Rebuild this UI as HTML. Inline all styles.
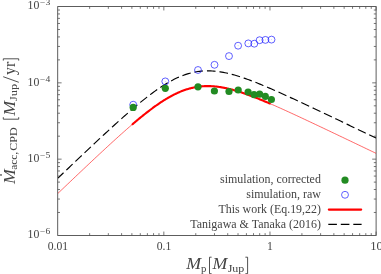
<!DOCTYPE html><html><head><meta charset="utf-8"><style>html,body{margin:0;padding:0;background:#fff;}body{width:381px;height:274px;overflow:hidden;position:relative;font-family:"Liberation Serif",serif;}</style></head><body><svg width="381" height="274" viewBox="0 0 381 274" style="position:absolute;left:0;top:0">
<rect width="381" height="274" fill="#fff"/>
<path d="M89.65 235.45v-2.30 M89.65 6.55v2.30 M108.34 235.45v-2.30 M108.34 6.55v2.30 M121.60 235.45v-2.30 M121.60 6.55v2.30 M131.88 235.45v-2.30 M131.88 6.55v2.30 M140.29 235.45v-2.30 M140.29 6.55v2.30 M147.39 235.45v-2.30 M147.39 6.55v2.30 M153.55 235.45v-2.30 M153.55 6.55v2.30 M158.98 235.45v-2.30 M158.98 6.55v2.30 M163.83 235.45v-3.90 M163.83 6.55v3.90 M195.78 235.45v-2.30 M195.78 6.55v2.30 M214.47 235.45v-2.30 M214.47 6.55v2.30 M227.73 235.45v-2.30 M227.73 6.55v2.30 M238.02 235.45v-2.30 M238.02 6.55v2.30 M246.42 235.45v-2.30 M246.42 6.55v2.30 M253.53 235.45v-2.30 M253.53 6.55v2.30 M259.68 235.45v-2.30 M259.68 6.55v2.30 M265.11 235.45v-2.30 M265.11 6.55v2.30 M269.97 235.45v-3.90 M269.97 6.55v3.90 M301.92 235.45v-2.30 M301.92 6.55v2.30 M320.61 235.45v-2.30 M320.61 6.55v2.30 M333.87 235.45v-2.30 M333.87 6.55v2.30 M344.15 235.45v-2.30 M344.15 6.55v2.30 M352.55 235.45v-2.30 M352.55 6.55v2.30 M359.66 235.45v-2.30 M359.66 6.55v2.30 M365.81 235.45v-2.30 M365.81 6.55v2.30 M371.24 235.45v-2.30 M371.24 6.55v2.30 M376.10 235.45v-3.90 M376.10 6.55v3.90 M57.70 212.48h2.30 M376.10 212.48h-2.30 M57.70 199.05h2.30 M376.10 199.05h-2.30 M57.70 189.51h2.30 M376.10 189.51h-2.30 M57.70 182.12h2.30 M376.10 182.12h-2.30 M57.70 176.08h2.30 M376.10 176.08h-2.30 M57.70 170.97h2.30 M376.10 170.97h-2.30 M57.70 166.54h2.30 M376.10 166.54h-2.30 M57.70 162.64h2.30 M376.10 162.64h-2.30 M57.70 159.15h3.90 M376.10 159.15h-3.90 M57.70 136.18h2.30 M376.10 136.18h-2.30 M57.70 122.75h2.30 M376.10 122.75h-2.30 M57.70 113.21h2.30 M376.10 113.21h-2.30 M57.70 105.82h2.30 M376.10 105.82h-2.30 M57.70 99.78h2.30 M376.10 99.78h-2.30 M57.70 94.67h2.30 M376.10 94.67h-2.30 M57.70 90.24h2.30 M376.10 90.24h-2.30 M57.70 86.34h2.30 M376.10 86.34h-2.30 M57.70 82.85h3.90 M376.10 82.85h-3.90 M57.70 59.88h2.30 M376.10 59.88h-2.30 M57.70 46.45h2.30 M376.10 46.45h-2.30 M57.70 36.91h2.30 M376.10 36.91h-2.30 M57.70 29.52h2.30 M376.10 29.52h-2.30 M57.70 23.48h2.30 M376.10 23.48h-2.30 M57.70 18.37h2.30 M376.10 18.37h-2.30 M57.70 13.94h2.30 M376.10 13.94h-2.30 M57.70 10.04h2.30 M376.10 10.04h-2.30" stroke="#555" stroke-width="0.8" fill="none"/>
<rect x="57.70" y="6.55" width="318.40" height="228.90" fill="none" stroke="#4c4c4c" stroke-width="0.9"/>
<clipPath id="c"><rect x="57.70" y="6.55" width="318.40" height="228.90"/></clipPath>
<g clip-path="url(#c)" fill="none">
<path d="M58.00 193.30 L59.59 191.78 L61.18 190.26 L62.77 188.75 L64.36 187.23 L65.95 185.72 L67.54 184.21 L69.13 182.69 L70.72 181.18 L72.31 179.67 L73.90 178.16 L75.49 176.65 L77.08 175.14 L78.67 173.64 L80.26 172.13 L81.85 170.63 L83.44 169.12 L85.03 167.62 L86.62 166.12 L88.21 164.62 L89.80 163.12 L91.39 161.63 L92.98 160.13 L94.57 158.64 L96.16 157.15 L97.75 155.67 L99.34 154.18 L100.93 152.70 L102.52 151.22 L104.11 149.75 L105.70 148.27 L107.29 146.81 L108.88 145.34 L110.47 143.88 L112.06 142.42 L113.65 140.97 L115.24 139.53 L116.83 138.09 L118.42 136.65 L120.01 135.22 L121.60 133.80 L123.19 132.38 L124.78 130.97 L126.37 129.57 L127.96 128.18 L129.55 126.79 L131.14 125.42 L132.73 124.05 L134.32 122.70 L135.91 121.35 L137.50 120.02 L139.09 118.70 L140.68 117.40 L142.27 116.10 L143.86 114.83 L145.45 113.56 L147.04 112.32 L148.63 111.09 L150.22 109.88 L151.81 108.69 L153.40 107.52 L154.99 106.37 L156.58 105.24 L158.17 104.14 L159.76 103.06 L161.35 102.00 L162.94 100.97 L164.53 99.97 L166.12 99.00 L167.71 98.05 L169.30 97.14 L170.89 96.26 L172.48 95.41 L174.07 94.59 L175.66 93.81 L177.25 93.06 L178.84 92.35 L180.43 91.67 L182.02 91.04 L183.61 90.44 L185.20 89.87 L186.79 89.35 L188.38 88.87 L189.97 88.42 L191.56 88.02 L193.15 87.65 L194.74 87.32 L196.33 87.03 L197.92 86.79 L199.51 86.58 L201.10 86.40 L202.69 86.27 L204.28 86.18 L205.87 86.12 L207.46 86.09 L209.05 86.10 L210.64 86.15 L212.23 86.23 L213.82 86.34 L215.41 86.49 L217.00 86.66 L218.59 86.86 L220.18 87.10 L221.77 87.36 L223.36 87.64 L224.95 87.96 L226.54 88.29 L228.13 88.65 L229.72 89.03 L231.31 89.44 L232.90 89.86 L234.49 90.30 L236.08 90.77 L237.67 91.25 L239.26 91.74 L240.85 92.25 L242.44 92.78 L244.03 93.32 L245.62 93.88 L247.21 94.44 L248.80 95.02 L250.39 95.61 L251.98 96.21 L253.57 96.82 L255.16 97.44 L256.75 98.07 L258.34 98.71 L259.93 99.36 L261.52 100.01 L263.11 100.67 L264.70 101.34 L266.29 102.01 L267.88 102.69 L269.47 103.37 L271.06 104.06 L272.65 104.75 L274.24 105.45 L275.83 106.15 L277.42 106.86 L279.01 107.57 L280.60 108.28 L282.19 109.00 L283.78 109.71 L285.37 110.44 L286.96 111.16 L288.55 111.89 L290.14 112.62 L291.73 113.35 L293.32 114.08 L294.91 114.82 L296.50 115.55 L298.09 116.29 L299.68 117.03 L301.27 117.77 L302.86 118.52 L304.45 119.26 L306.04 120.01 L307.63 120.75 L309.22 121.50 L310.81 122.25 L312.40 123.00 L313.99 123.75 L315.58 124.50 L317.17 125.25 L318.76 126.00 L320.35 126.75 L321.94 127.51 L323.53 128.26 L325.12 129.02 L326.71 129.77 L328.30 130.53 L329.89 131.28 L331.48 132.04 L333.07 132.80 L334.66 133.55 L336.25 134.31 L337.84 135.07 L339.43 135.83 L341.02 136.58 L342.61 137.34 L344.20 138.10 L345.79 138.86 L347.38 139.62 L348.97 140.38 L350.56 141.14 L352.15 141.90 L353.74 142.66 L355.33 143.41 L356.92 144.17 L358.51 144.93 L360.10 145.69 L361.69 146.46 L363.28 147.22 L364.87 147.98 L366.46 148.74 L368.05 149.50 L369.64 150.26 L371.23 151.02 L372.82 151.78 L374.41 152.54 L376.00 153.30" stroke="#ff0000" stroke-width="0.6"/>
<path d="M58.00 178.06 L59.59 176.55 L61.18 175.03 L62.77 173.52 L64.36 172.00 L65.95 170.49 L67.54 168.97 L69.13 167.46 L70.72 165.95 L72.31 164.44 L73.90 162.93 L75.49 161.42 L77.08 159.91 L78.67 158.40 L80.26 156.90 L81.85 155.39 L83.44 153.89 L85.03 152.39 L86.62 150.89 L88.21 149.39 L89.80 147.89 L91.39 146.39 L92.98 144.90 L94.57 143.41 L96.16 141.92 L97.75 140.43 L99.34 138.95 L100.93 137.47 L102.52 135.99 L104.11 134.51 L105.70 133.04 L107.29 131.57 L108.88 130.11 L110.47 128.65 L112.06 127.19 L113.65 125.74 L115.24 124.29 L116.83 122.85 L118.42 121.42 L120.01 119.99 L121.60 118.56 L123.19 117.15 L124.78 115.74 L126.37 114.34 L127.96 112.94 L129.55 111.56 L131.14 110.18 L132.73 108.82 L134.32 107.46 L135.91 106.12 L137.50 104.79 L139.09 103.47 L140.68 102.16 L142.27 100.87 L143.86 99.59 L145.45 98.33 L147.04 97.09 L148.63 95.86 L150.22 94.65 L151.81 93.46 L153.40 92.29 L154.99 91.14 L156.58 90.01 L158.17 88.90 L159.76 87.82 L161.35 86.77 L162.94 85.74 L164.53 84.74 L166.12 83.76 L167.71 82.82 L169.30 81.91 L170.89 81.02 L172.48 80.17 L174.07 79.36 L175.66 78.58 L177.25 77.83 L178.84 77.12 L180.43 76.44 L182.02 75.80 L183.61 75.20 L185.20 74.64 L186.79 74.12 L188.38 73.63 L189.97 73.19 L191.56 72.78 L193.15 72.42 L194.74 72.09 L196.33 71.80 L197.92 71.55 L199.51 71.34 L201.10 71.17 L202.69 71.04 L204.28 70.94 L205.87 70.88 L207.46 70.86 L209.05 70.87 L210.64 70.92 L212.23 71.00 L213.82 71.11 L215.41 71.25 L217.00 71.43 L218.59 71.63 L220.18 71.86 L221.77 72.12 L223.36 72.41 L224.95 72.72 L226.54 73.06 L228.13 73.42 L229.72 73.80 L231.31 74.20 L232.90 74.63 L234.49 75.07 L236.08 75.53 L237.67 76.01 L239.26 76.51 L240.85 77.02 L242.44 77.55 L244.03 78.09 L245.62 78.64 L247.21 79.21 L248.80 79.79 L250.39 80.38 L251.98 80.98 L253.57 81.59 L255.16 82.21 L256.75 82.84 L258.34 83.48 L259.93 84.12 L261.52 84.78 L263.11 85.44 L264.70 86.10 L266.29 86.77 L267.88 87.45 L269.47 88.14 L271.06 88.83 L272.65 89.52 L274.24 90.22 L275.83 90.92 L277.42 91.62 L279.01 92.33 L280.60 93.05 L282.19 93.76 L283.78 94.48 L285.37 95.20 L286.96 95.93 L288.55 96.65 L290.14 97.38 L291.73 98.12 L293.32 98.85 L294.91 99.58 L296.50 100.32 L298.09 101.06 L299.68 101.80 L301.27 102.54 L302.86 103.28 L304.45 104.03 L306.04 104.77 L307.63 105.52 L309.22 106.27 L310.81 107.02 L312.40 107.76 L313.99 108.51 L315.58 109.27 L317.17 110.02 L318.76 110.77 L320.35 111.52 L321.94 112.28 L323.53 113.03 L325.12 113.78 L326.71 114.54 L328.30 115.29 L329.89 116.05 L331.48 116.81 L333.07 117.56 L334.66 118.32 L336.25 119.08 L337.84 119.83 L339.43 120.59 L341.02 121.35 L342.61 122.11 L344.20 122.87 L345.79 123.63 L347.38 124.38 L348.97 125.14 L350.56 125.90 L352.15 126.66 L353.74 127.42 L355.33 128.18 L356.92 128.94 L358.51 129.70 L360.10 130.46 L361.69 131.22 L363.28 131.98 L364.87 132.74 L366.46 133.50 L368.05 134.26 L369.64 135.02 L371.23 135.78 L372.82 136.55 L374.41 137.31 L376.00 138.07" stroke="#000" stroke-width="1.15" stroke-dasharray="8.65 3.885" stroke-dashoffset="1.0"/>
<path d="M132.55 124.21 L133.23 123.62 L133.92 123.04 L134.61 122.45 L135.29 121.87 L135.98 121.30 L136.67 120.72 L137.35 120.15 L138.04 119.57 L138.72 119.00 L139.41 118.44 L140.10 117.87 L140.78 117.31 L141.47 116.75 L142.15 116.20 L142.84 115.64 L143.53 115.09 L144.21 114.54 L144.90 114.00 L145.58 113.46 L146.27 112.92 L146.96 112.38 L147.64 111.85 L148.33 111.32 L149.02 110.80 L149.70 110.27 L150.39 109.75 L151.07 109.24 L151.76 108.73 L152.45 108.22 L153.13 107.71 L153.82 107.21 L154.50 106.72 L155.19 106.23 L155.88 105.74 L156.56 105.25 L157.25 104.77 L157.93 104.30 L158.62 103.83 L159.31 103.36 L159.99 102.90 L160.68 102.44 L161.37 101.99 L162.05 101.54 L162.74 101.10 L163.42 100.66 L164.11 100.23 L164.80 99.81 L165.48 99.38 L166.17 98.97 L166.85 98.56 L167.54 98.15 L168.23 97.75 L168.91 97.36 L169.60 96.97 L170.28 96.59 L170.97 96.21 L171.66 95.84 L172.34 95.48 L173.03 95.12 L173.71 94.77 L174.40 94.43 L175.09 94.09 L175.77 93.75 L176.46 93.43 L177.15 93.11 L177.83 92.80 L178.52 92.49 L179.20 92.19 L179.89 91.90 L180.58 91.61 L181.26 91.34 L181.95 91.06 L182.63 90.80 L183.32 90.54 L184.01 90.29 L184.69 90.05 L185.38 89.81 L186.06 89.58 L186.75 89.36 L187.44 89.15 L188.12 88.94 L188.81 88.74 L189.50 88.55 L190.18 88.36 L190.87 88.19 L191.55 88.02 L192.24 87.85 L192.93 87.70 L193.61 87.55 L194.30 87.41 L194.98 87.28 L195.67 87.15 L196.36 87.03 L197.04 86.92 L197.73 86.81 L198.41 86.72 L199.10 86.63 L199.79 86.54 L200.47 86.47 L201.16 86.40 L201.85 86.34 L202.53 86.28 L203.22 86.24 L203.90 86.19 L204.59 86.16 L205.28 86.13 L205.96 86.11 L206.65 86.10 L207.33 86.09 L208.02 86.09 L208.71 86.10 L209.39 86.11 L210.08 86.13 L210.76 86.15 L211.45 86.19 L212.14 86.22 L212.82 86.27 L213.51 86.32 L214.20 86.37 L214.88 86.43 L215.57 86.50 L216.25 86.57 L216.94 86.65 L217.63 86.74 L218.31 86.83 L219.00 86.92 L219.68 87.02 L220.37 87.13 L221.06 87.24 L221.74 87.35 L222.43 87.47 L223.11 87.60 L223.80 87.73 L224.49 87.86 L225.17 88.00 L225.86 88.14 L226.54 88.29 L227.23 88.45 L227.92 88.60 L228.60 88.76 L229.29 88.93 L229.98 89.10 L230.66 89.27 L231.35 89.45 L232.03 89.63 L232.72 89.81 L233.41 90.00 L234.09 90.19 L234.78 90.39 L235.46 90.59 L236.15 90.79 L236.84 90.99 L237.52 91.20 L238.21 91.41 L238.89 91.63 L239.58 91.84 L240.27 92.06 L240.95 92.29 L241.64 92.51 L242.33 92.74 L243.01 92.97 L243.70 93.21 L244.38 93.44 L245.07 93.68 L245.76 93.92 L246.44 94.17 L247.13 94.41 L247.81 94.66 L248.50 94.91 L249.19 95.16 L249.87 95.42 L250.56 95.68 L251.24 95.93 L251.93 96.19 L252.62 96.46 L253.30 96.72 L253.99 96.99 L254.68 97.25 L255.36 97.52 L256.05 97.79 L256.73 98.07 L257.42 98.34 L258.11 98.62 L258.79 98.89 L259.48 99.17 L260.16 99.45 L260.85 99.73 L261.54 100.02 L262.22 100.30 L262.91 100.59 L263.59 100.87 L264.28 101.16 L264.97 101.45 L265.65 101.74 L266.34 102.03 L267.02 102.32 L267.71 102.61 L268.40 102.91 L269.08 103.20 L269.77 103.50" stroke="#ff0000" stroke-width="2.1" stroke-linecap="round"/>
</g>
<circle cx="133.2" cy="104.7" r="3.45" fill="none" stroke="#1c1cff" stroke-width="0.7"/><circle cx="133.2" cy="104.7" r="0.45" fill="#99f"/>
<circle cx="165.3" cy="81.4" r="3.45" fill="none" stroke="#1c1cff" stroke-width="0.7"/><circle cx="165.3" cy="81.4" r="0.45" fill="#99f"/>
<circle cx="198.0" cy="70.0" r="3.45" fill="none" stroke="#1c1cff" stroke-width="0.7"/><circle cx="198.0" cy="70.0" r="0.45" fill="#99f"/>
<circle cx="214.5" cy="64.8" r="3.45" fill="none" stroke="#1c1cff" stroke-width="0.7"/><circle cx="214.5" cy="64.8" r="0.45" fill="#99f"/>
<circle cx="229.0" cy="56.1" r="3.45" fill="none" stroke="#1c1cff" stroke-width="0.7"/><circle cx="229.0" cy="56.1" r="0.45" fill="#99f"/>
<circle cx="238.1" cy="45.7" r="3.45" fill="none" stroke="#1c1cff" stroke-width="0.7"/><circle cx="238.1" cy="45.7" r="0.45" fill="#99f"/>
<circle cx="248.3" cy="43.4" r="3.45" fill="none" stroke="#1c1cff" stroke-width="0.7"/><circle cx="248.3" cy="43.4" r="0.45" fill="#99f"/>
<circle cx="254.3" cy="43.7" r="3.45" fill="none" stroke="#1c1cff" stroke-width="0.7"/><circle cx="254.3" cy="43.7" r="0.45" fill="#99f"/>
<circle cx="259.6" cy="40.2" r="3.45" fill="none" stroke="#1c1cff" stroke-width="0.7"/><circle cx="259.6" cy="40.2" r="0.45" fill="#99f"/>
<circle cx="265.4" cy="39.9" r="3.45" fill="none" stroke="#1c1cff" stroke-width="0.7"/><circle cx="265.4" cy="39.9" r="0.45" fill="#99f"/>
<circle cx="271.5" cy="39.6" r="3.45" fill="none" stroke="#1c1cff" stroke-width="0.7"/><circle cx="271.5" cy="39.6" r="0.45" fill="#99f"/>
<circle cx="133.2" cy="107.4" r="3.6" fill="#228b22"/>
<circle cx="165.3" cy="88.3" r="3.6" fill="#228b22"/>
<circle cx="198.0" cy="86.8" r="3.6" fill="#228b22"/>
<circle cx="214.4" cy="91.0" r="3.6" fill="#228b22"/>
<circle cx="229.0" cy="91.5" r="3.6" fill="#228b22"/>
<circle cx="238.2" cy="90.0" r="3.6" fill="#228b22"/>
<circle cx="248.1" cy="92.0" r="3.6" fill="#228b22"/>
<circle cx="254.0" cy="94.6" r="3.6" fill="#228b22"/>
<circle cx="259.6" cy="94.2" r="3.6" fill="#228b22"/>
<circle cx="265.3" cy="96.3" r="3.6" fill="#228b22"/>
<circle cx="271.4" cy="99.5" r="3.6" fill="#228b22"/>
<circle cx="345" cy="180.2" r="3.6" fill="#228b22"/>
<circle cx="345" cy="194.8" r="3.45" fill="none" stroke="#1c1cff" stroke-width="0.7"/><circle cx="345" cy="194.8" r="0.45" fill="#99f"/>
<path d="M328.8 209.6H361.2" stroke="#ff0000" stroke-width="2.1" stroke-linecap="round"/>
<path d="M328.3 224.4H361.6" stroke="#000" stroke-width="1.15" stroke-dasharray="8.6 3.9"/>
<g font-family="'Liberation Serif', serif" fill="#444" style="filter:grayscale(1)"><text x="27.6" y="238.4" font-size="11.8" text-anchor="start" textLength="11.8" lengthAdjust="spacingAndGlyphs">10</text><text x="40.0" y="234.1" font-size="8.2" text-anchor="start" textLength="10.2" lengthAdjust="spacingAndGlyphs">−6</text><text x="27.6" y="162.2" font-size="11.8" text-anchor="start" textLength="11.8" lengthAdjust="spacingAndGlyphs">10</text><text x="40.0" y="157.9" font-size="8.2" text-anchor="start" textLength="10.2" lengthAdjust="spacingAndGlyphs">−5</text><text x="27.6" y="86.1" font-size="11.8" text-anchor="start" textLength="11.8" lengthAdjust="spacingAndGlyphs">10</text><text x="40.0" y="81.8" font-size="8.2" text-anchor="start" textLength="10.2" lengthAdjust="spacingAndGlyphs">−4</text><text x="27.6" y="8.9" font-size="11.8" text-anchor="start" textLength="11.8" lengthAdjust="spacingAndGlyphs">10</text><text x="40.0" y="4.6" font-size="8.2" text-anchor="start" textLength="10.2" lengthAdjust="spacingAndGlyphs">−3</text><text x="58.0" y="250.3" font-size="11.8" text-anchor="middle" textLength="20.4" lengthAdjust="spacingAndGlyphs">0.01</text><text x="164.0" y="250.3" font-size="11.8" text-anchor="middle" textLength="14.6" lengthAdjust="spacingAndGlyphs">0.1</text><text x="270.0" y="250.3" font-size="11.8" text-anchor="middle">1</text><text x="370.3" y="250.3" font-size="11.8" text-anchor="start" textLength="12.6" lengthAdjust="spacingAndGlyphs">10</text><text x="320.9" y="182.9" font-size="11.8" text-anchor="end" textLength="100.8" lengthAdjust="spacingAndGlyphs">simulation, corrected</text><text x="320.9" y="197.9" font-size="11.8" text-anchor="end" textLength="74.6" lengthAdjust="spacingAndGlyphs">simulation, raw</text><text x="320.9" y="212.9" font-size="11.8" text-anchor="end" textLength="102.4" lengthAdjust="spacingAndGlyphs">This work (Eq.19,22)</text><text x="320.9" y="227.6" font-size="11.8" text-anchor="end" textLength="130.6" lengthAdjust="spacingAndGlyphs">Tanigawa &amp; Tanaka (2016)</text><text x="186.2" y="269.4" font-size="16.4" text-anchor="start" textLength="14.8" lengthAdjust="spacingAndGlyphs" font-style="italic">M</text><text x="201.0" y="271.5" font-size="11.0" text-anchor="start" textLength="5.4" lengthAdjust="spacingAndGlyphs">p</text><text x="212.5" y="269.4" font-size="16.4" text-anchor="start" textLength="14.8" lengthAdjust="spacingAndGlyphs" font-style="italic">M</text><text x="227.7" y="271.5" font-size="11.0" text-anchor="start" textLength="16.6" lengthAdjust="spacingAndGlyphs">Jup</text><g transform="translate(0,274) rotate(-90)"><text x="89.9" y="15.2" font-size="16.4" text-anchor="start" textLength="14.8" lengthAdjust="spacingAndGlyphs" font-style="italic">M</text><text x="104.2" y="16.9" font-size="11.0" text-anchor="start" textLength="18.0" lengthAdjust="spacingAndGlyphs">acc,</text><text x="123.3" y="16.9" font-size="11.0" text-anchor="start" textLength="23.2" lengthAdjust="spacingAndGlyphs">CPD</text><text x="158.3" y="15.2" font-size="16.4" text-anchor="start" textLength="14.8" lengthAdjust="spacingAndGlyphs" font-style="italic">M</text><text x="173.0" y="16.9" font-size="11.0" text-anchor="start" textLength="17.0" lengthAdjust="spacingAndGlyphs">Jup</text><text x="199.0" y="15.2" font-size="16.4" text-anchor="start" textLength="13.2" lengthAdjust="spacingAndGlyphs">yr</text><circle cx="99.1" cy="1.0" r="0.85"/></g><path d="M211.6 257.2H209.5V273.7H211.6 M245.4 257.2H247.6V273.7H245.4 M3.3 117.2V119.2H18.7V117.2 M18.8 82.3L3.2 76.7 M3.3 60.6V58.8H18.7V60.6" fill="none" stroke="#333" stroke-width="0.85"/></g>
</svg></body></html>
